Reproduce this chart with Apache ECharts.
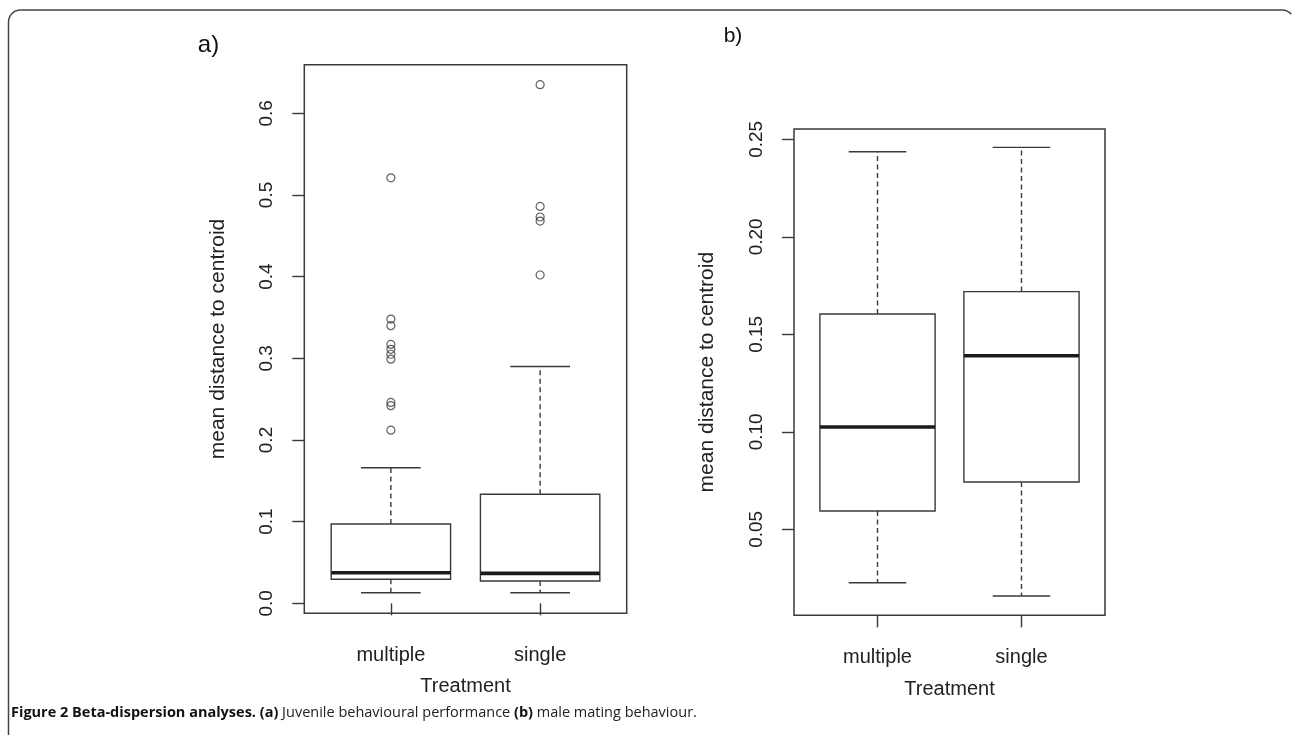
<!DOCTYPE html>
<html>
<head>
<meta charset="utf-8">
<script src="https://cdn.jsdelivr.net/npm/echarts@6/dist/echarts.min.js"></script>
<style>
html,body{margin:0;padding:0;background:#fff;}
#chart{width:1292px;height:735px;}
</style>
</head>
<body>
<div id="chart"></div>
<script>
// ---- data ----
const categories = ['multiple', 'single'];
const yTicksA = [0.0, 0.1, 0.2, 0.3, 0.4, 0.5, 0.6];
const yTicksB = [0.05, 0.10, 0.15, 0.20, 0.25];
// [lower whisker, Q1, median, Q3, upper whisker]
const boxA_multiple = [0.013, 0.0294, 0.0375, 0.0971, 0.166];
const boxA_single   = [0.013, 0.0273, 0.0367, 0.1336, 0.290];
const outA_multiple = [0.521, 0.348, 0.340, 0.317, 0.311, 0.305, 0.299, 0.246, 0.242, 0.212];
const outA_single   = [0.635, 0.486, 0.473, 0.468, 0.402];
const boxB_multiple = [0.0226, 0.0594, 0.1025, 0.1604, 0.2436];
const boxB_single   = [0.0158, 0.0743, 0.1390, 0.1719, 0.2459];

const LINE = '#3a3a3a';
const FONT = 'Liberation Sans';

function boxData(m, s) {
  return [[1].concat(m), [2].concat(s)];
}
function outData(m, s) {
  return m.map(v => [1, v]).concat(s.map(v => [2, v]));
}

function renderBox(params, api) {
  const x = api.value(0);
  const low = api.value(1), q1 = api.value(2), med = api.value(3), q3 = api.value(4), high = api.value(5);
  const tl = api.coord([x - 0.4, q3]);
  const br = api.coord([x + 0.4, q1]);
  const cx = api.coord([x, med])[0];
  const capL = api.coord([x - 0.2, high])[0];
  const capR = api.coord([x + 0.2, high])[0];
  const yHigh = api.coord([x, high])[1];
  const yLow = api.coord([x, low])[1];
  const yMed = api.coord([x, med])[1];
  const thin = {stroke: LINE, lineWidth: 1.4, fill: null};
  const dash = {stroke: LINE, lineWidth: 1.4, lineDash: [5, 3.5]};
  return {
    type: 'group',
    children: [
      {type: 'line', shape: {x1: cx, y1: tl[1], x2: cx, y2: yHigh}, style: dash},
      {type: 'line', shape: {x1: cx, y1: br[1], x2: cx, y2: yLow}, style: dash},
      {type: 'line', shape: {x1: capL, y1: yHigh, x2: capR, y2: yHigh}, style: thin},
      {type: 'line', shape: {x1: capL, y1: yLow, x2: capR, y2: yLow}, style: thin},
      {type: 'rect', shape: {x: tl[0], y: tl[1], width: br[0] - tl[0], height: br[1] - tl[1]},
        style: {stroke: LINE, lineWidth: 1.4, fill: '#fff'}},
      {type: 'line', shape: {x1: tl[0], y1: yMed, x2: br[0], y2: yMed},
        style: {stroke: '#1a1a1a', lineWidth: 3.6}}
    ]
  };
}

function xAxisCfg(gridIndex, nameGap) {
  return {
    type: 'value', gridIndex: gridIndex, min: 0.42, max: 2.58,
    splitLine: {show: false},
    axisLine: {show: false},
    axisTick: {show: true, customValues: [1, 2], length: 12, inside: false, lineStyle: {color: LINE, width: 1.4}},
    axisLabel: {customValues: [1, 2], formatter: v => categories[Math.round(v) - 1] || '',
      margin: 32, fontFamily: FONT, fontSize: 20, color: '#222'},
    name: 'Treatment', nameLocation: 'middle', nameGap: nameGap,
    nameTextStyle: {fontFamily: FONT, fontSize: 20, color: '#222'}
  };
}
function yAxisCfg(gridIndex, min, max, ticks, digits) {
  return {
    type: 'value', gridIndex: gridIndex, min: min, max: max,
    splitLine: {show: false},
    axisLine: {show: false},
    axisTick: {show: true, customValues: ticks, length: 12, inside: false, lineStyle: {color: LINE, width: 1.4}},
    axisLabel: {customValues: ticks, formatter: v => Number(v).toFixed(digits), rotate: 90,
      margin: 28, fontFamily: FONT, fontSize: 19, color: '#222'},
    name: 'mean distance to centroid', nameLocation: 'middle', nameGap: 76,
    nameTextStyle: {fontFamily: FONT, fontSize: 21, color: '#222'}
  };
}

const chart = echarts.init(document.getElementById('chart'), null, {renderer: 'canvas'});
chart.setOption({
  backgroundColor: '#fff',
  animation: false,
  grid: [
    {left: 304.3, top: 64.7, width: 322.4, height: 548.6, show: true, borderColor: LINE, borderWidth: 1.5, backgroundColor: 'transparent'},
    {left: 794, top: 129, width: 311, height: 486.3, show: true, borderColor: LINE, borderWidth: 1.5, backgroundColor: 'transparent'}
  ],
  xAxis: [xAxisCfg(0, 63), xAxisCfg(1, 64)],
  yAxis: [
    yAxisCfg(0, -0.0122, 0.6595, yTicksA, 1),
    yAxisCfg(1, 0.0059, 0.2553, yTicksB, 2)
  ],
  series: [
    {type: 'custom', xAxisIndex: 0, yAxisIndex: 0, renderItem: renderBox,
      encode: {x: 0, y: [1, 2, 3, 4, 5]}, data: boxData(boxA_multiple, boxA_single)},
    {type: 'scatter', xAxisIndex: 0, yAxisIndex: 0, symbol: 'circle', symbolSize: 8,
      itemStyle: {color: 'rgba(255,255,255,0)', borderColor: LINE, borderWidth: 1.2},
      data: outData(outA_multiple, outA_single)},
    {type: 'custom', xAxisIndex: 1, yAxisIndex: 1, renderItem: renderBox,
      encode: {x: 0, y: [1, 2, 3, 4, 5]}, data: boxData(boxB_multiple, boxB_single)}
  ],
  graphic: [
    {type: 'polyline', shape: {points: [[8.5, 735], [8.5, 22]]}, style: {stroke: '#444', lineWidth: 1.5, fill: null}, silent: true},
    {type: 'arc', shape: {cx: 20.5, cy: 22, r: 12, startAngle: Math.PI, endAngle: Math.PI * 1.5, clockwise: true},
      style: {stroke: '#444', lineWidth: 1.5, fill: null}, silent: true},
    {type: 'polyline', shape: {points: [[20.5, 10], [1282, 10]]}, style: {stroke: '#444', lineWidth: 1.5, fill: null}, silent: true},
    {type: 'arc', shape: {cx: 1282, cy: 22, r: 12, startAngle: Math.PI * 1.5, endAngle: Math.PI * 1.78, clockwise: true},
      style: {stroke: '#444', lineWidth: 1.5, fill: null}, silent: true},
    {type: 'text', x: 208.5, y: 45, style: {text: 'a)', font: '24px "Liberation Sans"', fill: '#111', align: 'center', verticalAlign: 'middle'}},
    {type: 'text', x: 733, y: 36, style: {text: 'b)', font: '21px "Liberation Sans"', fill: '#111', align: 'center', verticalAlign: 'middle'}},
    {type: 'text', x: 11, y: 713, style: {
      text: '{b|Figure 2 Beta-dispersion analyses.} {b|(a)} Juvenile behavioural performance {b|(b)} male mating behaviour.',
      fontFamily: 'Open Sans', fontSize: 14.5, fill: '#222', verticalAlign: 'middle', align: 'left',
      rich: {b: {fontFamily: 'Open Sans', fontSize: 14.5, fontWeight: 'bold', fill: '#111'}}
    }}
  ]
});
</script>
</body>
</html>
